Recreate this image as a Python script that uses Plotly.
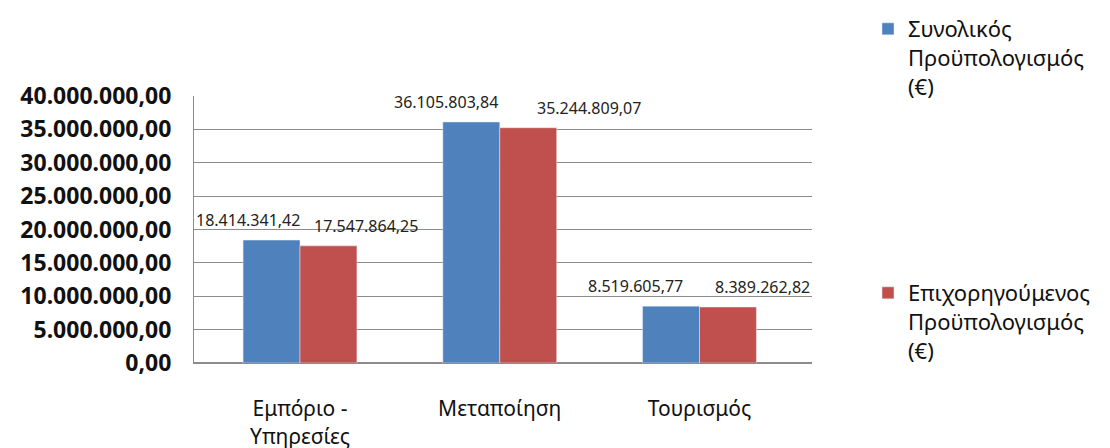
import plotly.graph_objects as go

categories = ["Εμπόριο -<br>Υπηρεσίες", "Μεταποίηση", "Τουρισμός"]
series_names = ["Συνολικός<br>Προϋπολογισμός<br>(€)", "Επιχορηγούμενος<br>Προϋπολογισμός<br>(€)"]
total_budget = [18414341.42, 36105803.84, 8519605.77]
subsidised_budget = [17547864.25, 35244809.07, 8389262.82]
y_ticks = [0, 5e6, 10e6, 15e6, 20e6, 25e6, 30e6, 35e6, 40e6]

colors = ["#4F81BD", "#C0504D"]
# horizontal label shifts (px) as placed in the original chart
label_shift = [[-52, -54, -64], [66, 89, 63]]

FONT = "Noto Sans"
W, H = 1102, 440  # page body adds an 8px margin

def gr(v):
    s = f"{v:,.2f}"
    return s.replace(",", "X").replace(".", ",").replace("X", ".")

fig = go.Figure()
legends = ["legend", "legend2"]
for i, (name, vals) in enumerate(zip(series_names, [total_budget, subsidised_budget])):
    fig.add_trace(go.Bar(
        x=categories, y=vals, name=name, marker_color=colors[i],
        legend=legends[i], hoverinfo="skip",
    ))

annotations = []
for i, vals in enumerate([total_budget, subsidised_budget]):
    for j, v in enumerate(vals):
        annotations.append(dict(
            x=categories[j], y=v, xref="x", yref="y", text=gr(v),
            showarrow=False, xshift=label_shift[i][j], yshift=20,
            font=dict(family=FONT, size=16, color="#222"),
        ))

leg_font = dict(family=FONT, size=22, color="#111")
fig.update_layout(
    width=W, height=H,
    margin=dict(l=186, r=298, t=88, b=85, autoexpand=False),
    paper_bgcolor="white", plot_bgcolor="white",
    separators=",.",
    barmode="group", bargap=0.43, bargroupgap=0,
    font=dict(family=FONT, color="#111"),
    annotations=annotations,
    showlegend=True,
    legend=dict(
        x=860 / W, xanchor="left", xref="container",
        y=1.0, yanchor="top", yref="container",
        font=leg_font, valign="top", itemwidth=30,
    ),
    legend2=dict(
        x=860 / W, xanchor="left", xref="container",
        y=1 - 264 / H, yanchor="top", yref="container",
        font=leg_font, valign="top", itemwidth=30,
    ),
)
fig.update_yaxes(
    range=[0, 40e6], tickvals=y_ticks, tickformat=",.2f",
    showgrid=True, gridcolor="#8C8C8C", gridwidth=1,
    showline=True, linecolor="#8C8C8C", linewidth=1,
    zeroline=True, zerolinecolor="#8C8C8C",
    tickfont=dict(family=FONT, size=23, color="#111", weight="bold"),
    ticklabelstandoff=17, automargin=False,
)
fig.update_xaxes(
    showline=True, linecolor="#8C8C8C", linewidth=1,
    tickfont=dict(family=FONT, size=21, color="#111"),
    ticklabelstandoff=27, automargin=False,
)
fig.write_html("out.html")
